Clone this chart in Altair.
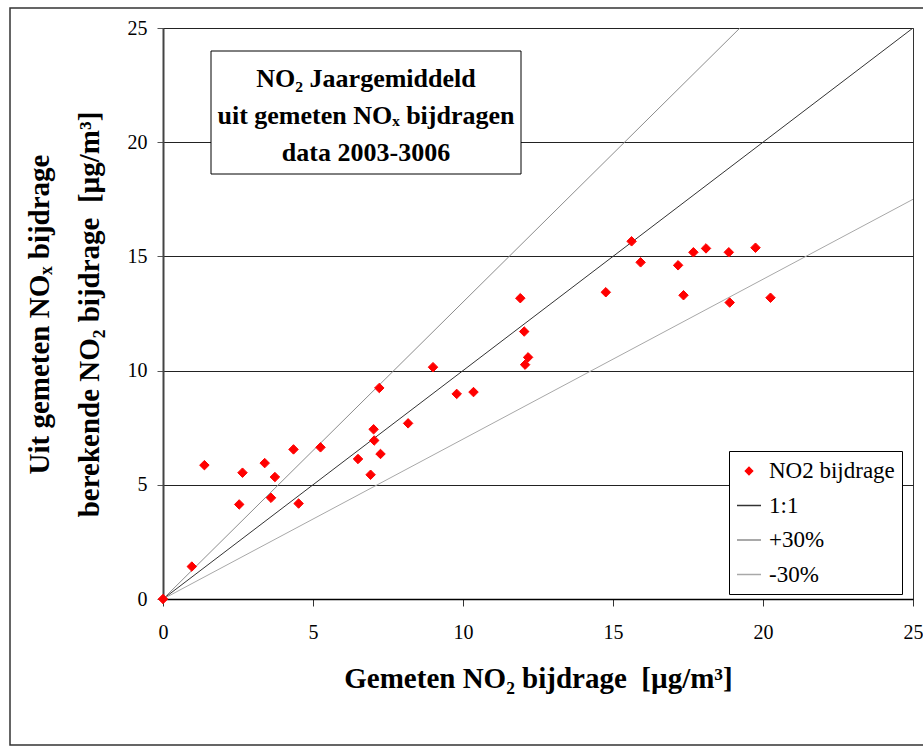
import altair as alt
import pandas as pd

# measured NO2 contribution (x) vs calculated NO2 contribution from NOx (y)
x_vals = [0, 0.96, 1.38, 2.65, 2.54, 3.39, 3.73, 3.60, 4.35, 4.52,
          5.25, 6.50, 6.92, 7.02, 7.04, 7.21, 7.25, 8.17, 9.00, 9.79,
          10.35, 11.91, 12.04, 12.07, 12.17, 14.76, 15.62, 15.92, 17.17, 17.35,
          17.68, 18.10, 18.86, 18.89, 19.75, 20.25]
y_vals = [0, 1.42, 5.86, 5.53, 4.14, 5.95, 5.34, 4.43, 6.55, 4.18,
          6.64, 6.13, 5.44, 7.43, 6.94, 9.24, 6.35, 7.69, 10.15, 8.98,
          9.06, 13.17, 11.71, 10.26, 10.58, 13.43, 15.66, 14.74, 14.61, 13.30,
          15.18, 15.35, 15.18, 12.98, 15.38, 13.19]

series_names = ["NO2 bijdrage", "1:1", "+30%", "-30%"]
series_colors = ["#ff0000", "#333333", "#8c8c8c", "#a8a8a8"]
DIAMOND = "M-0.3,0L0,-0.3L0.3,0L0,0.3Z"
series_shapes = [DIAMOND, "M-1,0L1,0", "M-1,0L1,0", "M-1,0L1,0"]

line_x = [0, 25]
line_1to1 = [0, 25]
line_plus30 = [0, 32.5]
line_min30 = [0, 17.5]

axis_ticks = [0, 5, 10, 15, 20, 25]

title_lines = ["NO₂ Jaargemiddeld", "uit gemeten NOₓ bijdragen", "data 2003-3006"]
x_title = "Gemeten NO₂ bijdrage\u00a0 [µg/m³]"
y_title = ["Uit gemeten NOₓ bijdrage", "berekende NO₂ bijdrage\u00a0 [µg/m³]"]

FONT = "Liberation Serif"

pts = pd.DataFrame({"x": x_vals, "y": y_vals, "series": series_names[0]})
rows = []
for name, ys in zip(series_names[1:], [line_1to1, line_plus30, line_min30]):
    for xv, yv in zip(line_x, ys):
        rows.append({"x": xv, "y": yv, "series": name})
lines = pd.DataFrame(rows)

xscale = alt.Scale(domain=[0, 25], nice=False)
yscale = alt.Scale(domain=[0, 25], nice=False)
cscale = alt.Scale(domain=series_names, range=series_colors)
sscale = alt.Scale(domain=series_names, range=series_shapes)

x_axis = alt.Axis(values=axis_ticks, grid=False, tickSize=7, labelPadding=16,
                  labelFlush=False,
                  labelFontSize=20, labelFont=FONT, labelColor="black",
                  domainColor="black", domainWidth=1.5, tickColor="#333",
                  title=x_title, titleFont=FONT, titleFontSize=29, titleFontWeight="bold",
                  titleColor="black", titleBaseline="alphabetic", titleY=88, titleX=375)
y_axis = alt.Axis(values=axis_ticks, grid=True, gridColor="#222", gridWidth=1,
                  tickSize=6, labelPadding=10, labelFlush=False,
                  labelFontSize=20, labelFont=FONT,
                  labelColor="black", domainColor="#444", domainWidth=2, tickColor="#555",
                  title=y_title, titleFont=FONT, titleFontSize=29, titleFontWeight="bold",
                  titleColor="black", titleLineHeight=50, titleAngle=270,
                  titleBaseline="alphabetic", titleAlign="center", titleX=-115, titleY=286)

legend = alt.Legend(
    title=None, orient="none", legendX=566, legendY=423,
    labelFont=FONT, labelFontSize=23, labelColor="black",
    fillColor="white", strokeColor="black", padding=7, rowPadding=9.5,
    symbolSize=576, symbolStrokeWidth=1.5, labelOffset=7,
)

line_layer = alt.Chart(lines).mark_line(clip=True, strokeWidth=1).encode(
    x=alt.X("x:Q", scale=xscale, axis=x_axis),
    y=alt.Y("y:Q", scale=yscale, axis=y_axis),
    color=alt.Color("series:N", scale=cscale, legend=legend),
)

point_layer = alt.Chart(pts).mark_point(filled=False, fill="#ff0000", strokeWidth=1,
                                         size=1000, opacity=1).encode(
    x=alt.X("x:Q", scale=xscale),
    y=alt.Y("y:Q", scale=yscale),
    color=alt.Color("series:N", scale=cscale, legend=legend),
    shape=alt.Shape("series:N", scale=sscale, legend=legend),
)

dummy = pd.DataFrame({"a": [0]})

box = alt.Chart(dummy).mark_rect(fill="white", stroke="black", strokeWidth=1).encode(
    x=alt.value(48), x2=alt.value(358), y=alt.value(23), y2=alt.value(146)
)
title_layers = [
    alt.Chart(dummy).mark_text(font=FONT, fontSize=26, fontWeight="bold", align="center",
                               baseline="alphabetic", color="black").encode(
        x=alt.value(203), y=alt.value(yy), text=alt.value(t))
    for t, yy in zip(title_lines, [59, 96, 133])
]

frame = alt.Chart(dummy).mark_rect(fillOpacity=0, stroke="#333", strokeWidth=1.5).encode(
    x=alt.value(-153), x2=alt.value(790), y=alt.value(-20), y2=alt.value(717)
)

chart = alt.layer(frame, line_layer, point_layer, box, *title_layers).properties(
    width=750, height=571,
    autosize=alt.AutoSizeParams(type="none"),
    padding={"left": 163, "top": 28, "right": 10, "bottom": 150},
    background="white",
).configure_view(stroke="#333", strokeWidth=1)

chart.save("out.html", embed_options={"renderer": "svg", "actions": False})
